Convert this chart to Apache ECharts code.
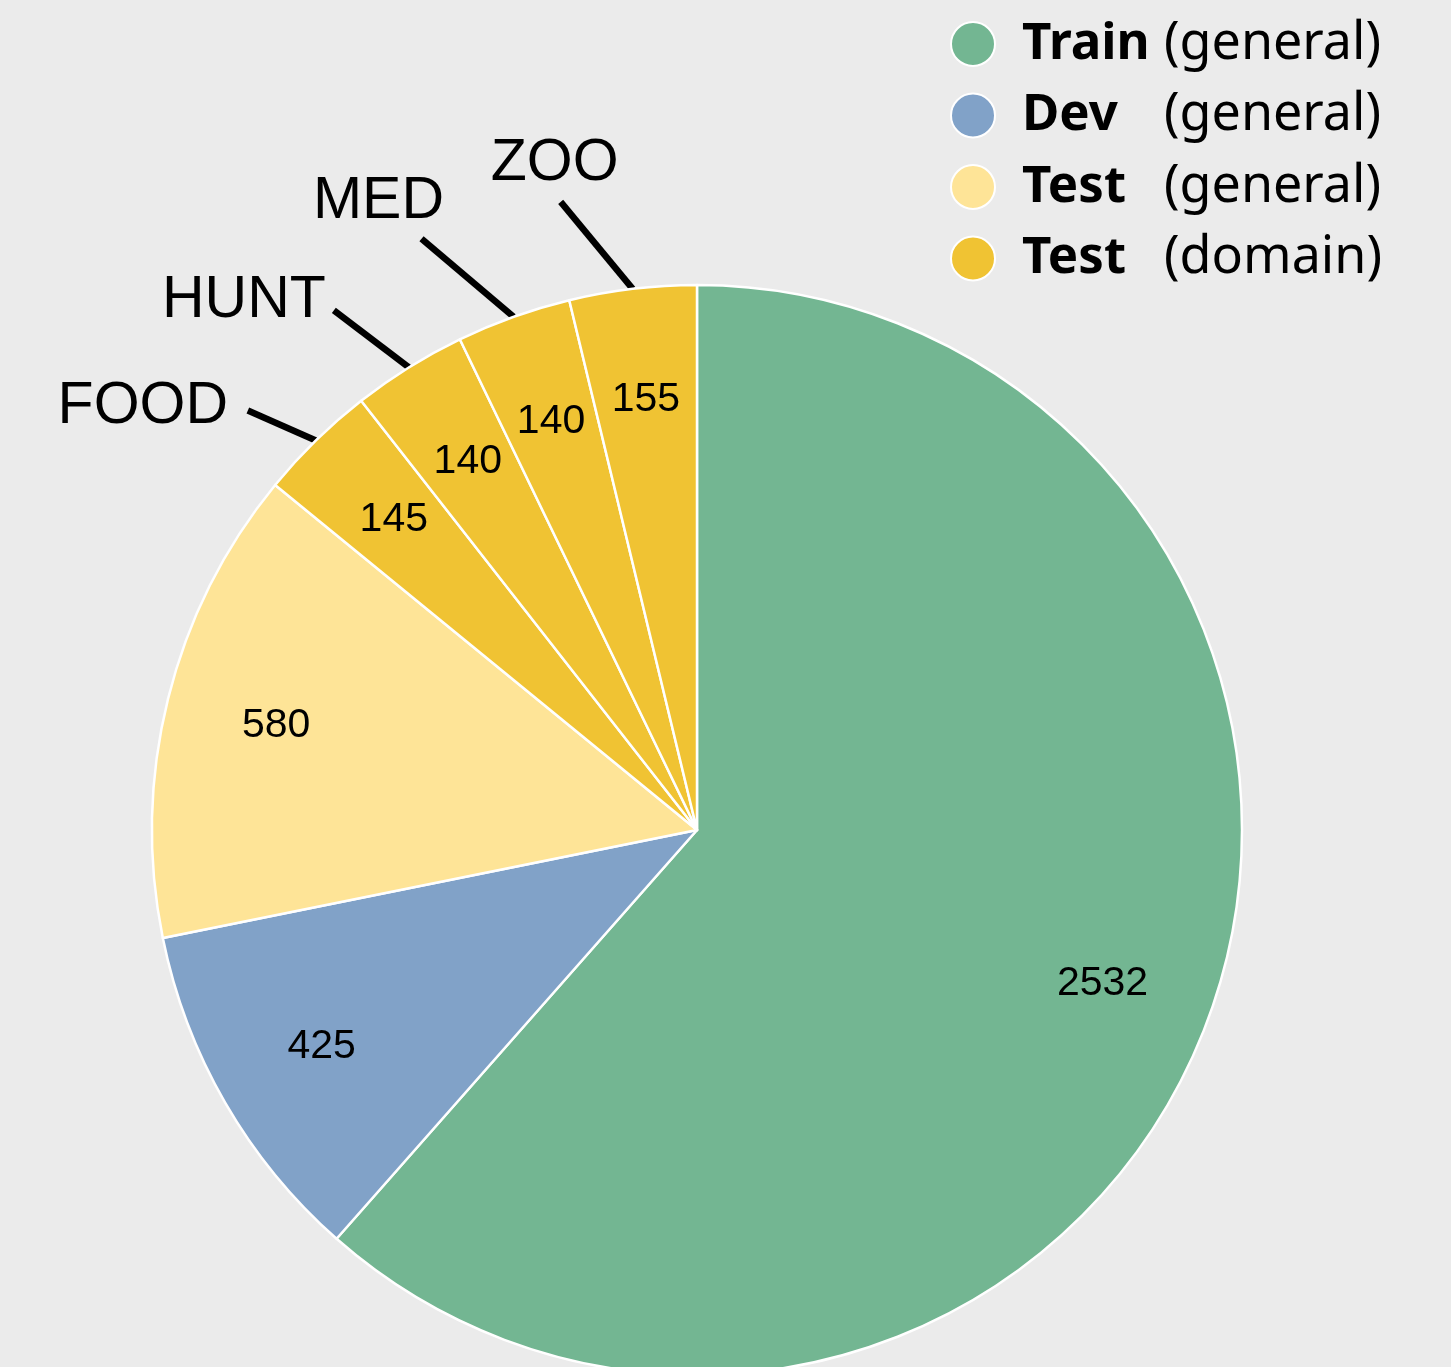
<!DOCTYPE html>
<html>
<head>
<meta charset="utf-8">
<title>Split sizes</title>
<style>
  html, body { margin: 0; padding: 0; background: #ebebeb; }
  #chart { width: 1451px; height: 1367px; }
</style>
</head>
<body>
<div id="chart"></div>
<script src="https://cdn.jsdelivr.net/npm/echarts@6/dist/echarts.min.js"></script>
<script>
// slices, clockwise from 12 o'clock
const categories = ['Train', 'Dev', 'Test', 'FOOD', 'HUNT', 'MED', 'ZOO']
const values = [2532, 425, 580, 145, 140, 140, 155]
// legend group of each slice
const groups = ['Train (general)', 'Dev (general)', 'Test (general)', 'Test (domain)', 'Test (domain)', 'Test (domain)', 'Test (domain)']
const legendNames = ['Train (general)', 'Dev (general)', 'Test (general)', 'Test (domain)']

const groupColors = {
  'Train (general)': '#73b692',
  'Dev (general)': '#81a2c8',
  'Test (general)': '#fee497',
  'Test (domain)': '#f0c333'
}

// leader line (from the slice edge) and text shift for the domain labels
const leaderVec = { FOOD: [-68, -30], HUNT: [-75, -57], MED: [-92, -78], ZOO: [-72, -87] }
const textShift = { FOOD: [-105, -4], HUNT: [-90, -10], MED: [-43, -37], ZOO: [-6, -38] }

const center = [697, 830]
const R = 545

let myChart = echarts.init(document.getElementById('chart'))

const mainData = values.map((v, i) => {
  const isDomain = groups[i] === 'Test (domain)'
  return {
    name: groups[i],
    value: v,
    itemStyle: { color: groupColors[groups[i]] },
    label: { show: isDomain },
    labelLine: { show: isDomain }
  }
})

const valueData = values.map((v, i) => ({ name: groups[i], value: v }))

const options = {
  backgroundColor: '#ebebeb',
  animation: false,
  legend: {
    data: legendNames,
    orient: 'vertical',
    left: 950,
    top: 18,
    padding: 0,
    icon: 'circle',
    itemWidth: 44,
    itemHeight: 44,
    itemGap: 19.5,
    formatter: function (name) {
      const cut = name.indexOf(' ')
      return '{b|' + name.slice(0, cut) + '}{n|' + name.slice(cut + 1) + '}'
    },
    textStyle: {
      color: '#000',
      rich: {
        b: { fontFamily: 'Noto Sans', fontWeight: 'bold', fontSize: 51, width: 142, padding: [0, 0, 0, 22], color: '#000' },
        n: { fontFamily: 'Noto Sans', fontSize: 52, color: '#000' }
      }
    }
  },
  series: [
    {
      type: 'pie',
      center: center,
      radius: R,
      startAngle: 90,
      clockwise: true,
      avoidLabelOverlap: false,
      silent: true,
      emphasis: { disabled: true },
      itemStyle: { borderColor: '#ffffff', borderWidth: 2.5 },
      label: {
        position: 'outside',
        color: '#000',
        fontFamily: 'Liberation Sans',
        fontSize: 59,
        formatter: p => categories[p.dataIndex]
      },
      labelLine: {
        lineStyle: { color: '#000', width: 6.5 }
      },
      labelLayout: function (params) {
        const name = categories[params.dataIndex]
        const vec = leaderVec[name]
        if (!vec || !params.labelLinePoints) return
        const p0 = params.labelLinePoints[0]
        const p1 = [p0[0] + vec[0], p0[1] + vec[1]]
        const shift = textShift[name]
        return {
          x: p1[0] + shift[0],
          y: p1[1] + shift[1],
          align: 'center',
          verticalAlign: 'middle',
          labelLinePoints: [p0, p1, p1]
        }
      },
      data: mainData
    },
    {
      // transparent ring that only carries the value labels near 0.79 R
      type: 'pie',
      center: center,
      radius: [R * 0.58, R],
      startAngle: 90,
      clockwise: true,
      silent: true,
      emphasis: { disabled: true },
      itemStyle: { color: 'rgba(0,0,0,0)', borderWidth: 0 },
      label: {
        position: 'inside',
        color: '#000',
        fontFamily: 'Liberation Sans',
        fontSize: 41,
        textBorderWidth: 0,
        formatter: '{c}'
      },
      labelLine: { show: false },
      data: valueData
    }
  ]
}

myChart.setOption(options)
</script>
</body>
</html>
